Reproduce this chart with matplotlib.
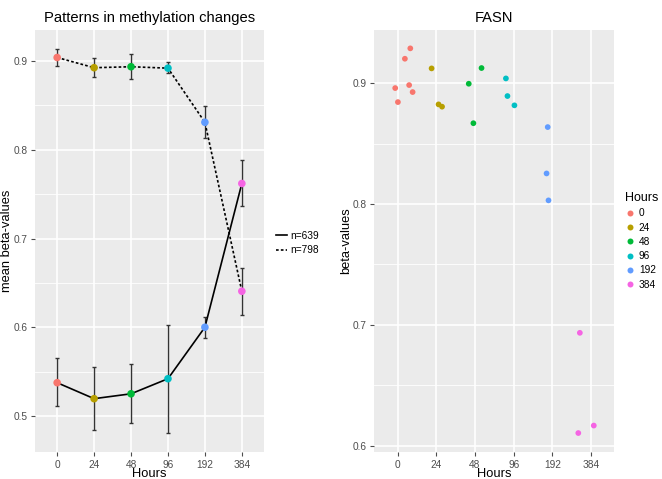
import numpy as np
import matplotlib
matplotlib.use("Agg")
import matplotlib.pyplot as plt
from matplotlib.lines import Line2D

plt.rcParams["font.family"] = ["Liberation Sans", "DejaVu Sans"]

# Data
hours = ["0", "24", "48", "96", "192", "384"]
colors = ["#F8766D", "#B79F00", "#00BA38", "#00BFC4", "#619CFF", "#F564E3"]

# left panel: mean beta-values with error bars
mean_798 = [0.904, 0.8925, 0.8936, 0.892, 0.831, 0.6406]
low_798 = [0.894, 0.882, 0.880, 0.886, 0.8135, 0.6135]
high_798 = [0.914, 0.903, 0.9075, 0.899, 0.849, 0.667]

mean_639 = [0.5375, 0.5195, 0.525, 0.542, 0.600, 0.762]
low_639 = [0.511, 0.484, 0.4917, 0.481, 0.5876, 0.7365]
high_639 = [0.565, 0.5556, 0.559, 0.6026, 0.612, 0.788]

# right panel: FASN beta-values (jittered points)
fasn_hour = [0, 0, 0, 0, 0, 0, 1, 1, 1, 2, 2, 2, 3, 3, 3, 4, 4, 4, 5, 5, 5]
fasn_jitter = [-0.06, 0.01, 0.19, 0.33, 0.30, 0.39,
               -0.12, 0.06, 0.15,
               -0.16, 0.17, -0.04,
               -0.20, -0.16, 0.02,
               -0.12, -0.15, -0.10,
               -0.29, -0.33, 0.07]
fasn_beta = [0.8961, 0.8845, 0.9204, 0.929, 0.8986, 0.8928,
             0.9124, 0.8826, 0.8807,
             0.8997, 0.9127, 0.867,
             0.9041, 0.8895, 0.8818,
             0.8638, 0.8254, 0.8031,
             0.6934, 0.6104, 0.6166]

fig = plt.figure(figsize=(6.62, 4.79), dpi=100)
ax1 = fig.add_axes([35 / 662, 1 - 452 / 479, 229 / 662, 422 / 479])
ax2 = fig.add_axes([374.3 / 662, 1 - 452 / 479, 240 / 662, 422 / 479])


def gg_style(ax, ylim, yticks, minor):
    ax.set_facecolor("#EBEBEB")
    for s in ax.spines.values():
        s.set_visible(False)
    ax.set_xlim(-0.6, 5.6)
    ax.set_ylim(*ylim)
    ax.set_xticks(range(len(hours)))
    ax.set_xticklabels(hours)
    ax.set_yticks(yticks)
    ax.set_yticklabels([f"{v:g}" for v in yticks])
    for v in minor:
        ax.axhline(v, color="white", lw=0.6, zorder=0)
    for v in yticks:
        ax.axhline(v, color="white", lw=1.2, zorder=0)
    for i in range(len(hours)):
        ax.axvline(i, color="white", lw=1.2, zorder=0)
    ax.tick_params(colors="#4D4D4D", labelcolor="#4D4D4D", labelsize=7.3,
                   length=3, width=0.8, pad=2.5)
    ax.set_xlabel("Hours", fontsize=9.3, labelpad=-1.5)


x = np.arange(len(hours))

# Left panel
gg_style(ax1, (0.4594, 0.935), [0.5, 0.6, 0.7, 0.8, 0.9],
         [0.55, 0.65, 0.75, 0.85])
for mean, low, high, ls in [(mean_639, low_639, high_639, "-"),
                            (mean_798, low_798, high_798, (0, (1.6, 1.3)))]:
    mean = np.array(mean)
    yerr = [mean - np.array(low), np.array(high) - mean]
    ax1.errorbar(x, mean, yerr=yerr, fmt="none", ecolor="#333333",
                 elinewidth=1.0, capsize=1.6, capthick=1.0, zorder=2)
    ax1.plot(x, mean, color="black", lw=1.2, linestyle=ls, zorder=3)
    ax1.scatter(x, mean, c=colors, s=30, zorder=4, edgecolors="none")
ax1.set_ylabel("mean beta-values", fontsize=9.3)
ax1.yaxis.set_label_coords(-0.094, 0.5)
ax1.set_title("Patterns in methylation changes", fontsize=10.6, pad=6)

handles = [Line2D([0], [0], color="black", lw=1.2),
           Line2D([0], [0], color="black", lw=1.2, linestyle=(0, (1.6, 1.3)))]
leg1 = fig.legend(handles, ["n=639", "n=798"], loc="center left",
                  bbox_to_anchor=(267 / 662, 1 - 243 / 479), frameon=False,
                  fontsize=7.3, handlelength=1.1, handletextpad=0.3,
                  labelspacing=0.45)

# Right panel
gg_style(ax2, (0.5947, 0.9442), [0.6, 0.7, 0.8, 0.9], [0.65, 0.75, 0.85])
fx = np.array(fasn_hour) + np.array(fasn_jitter)
fc = [colors[h] for h in fasn_hour]
ax2.scatter(fx, fasn_beta, c=fc, s=17, edgecolors="none", zorder=3)
ax2.set_ylabel("beta-values", fontsize=9.3)
ax2.yaxis.set_label_coords(-0.092, 0.5)
ax2.set_title("FASN", fontsize=10.6, pad=6)

handles2 = [Line2D([0], [0], marker="o", color="none", markerfacecolor=c,
                   markeredgecolor="none", markersize=4.3) for c in colors]
leg2 = fig.legend(handles2, hours, title="Hours", loc="upper left",
                  bbox_to_anchor=(616 / 662, 1 - 183 / 479), frameon=False,
                  fontsize=7.3, title_fontsize=9.0, handlelength=1.0,
                  handletextpad=0.35, labelspacing=0.42, alignment="left")

fig.savefig("out.png", dpi=100)
